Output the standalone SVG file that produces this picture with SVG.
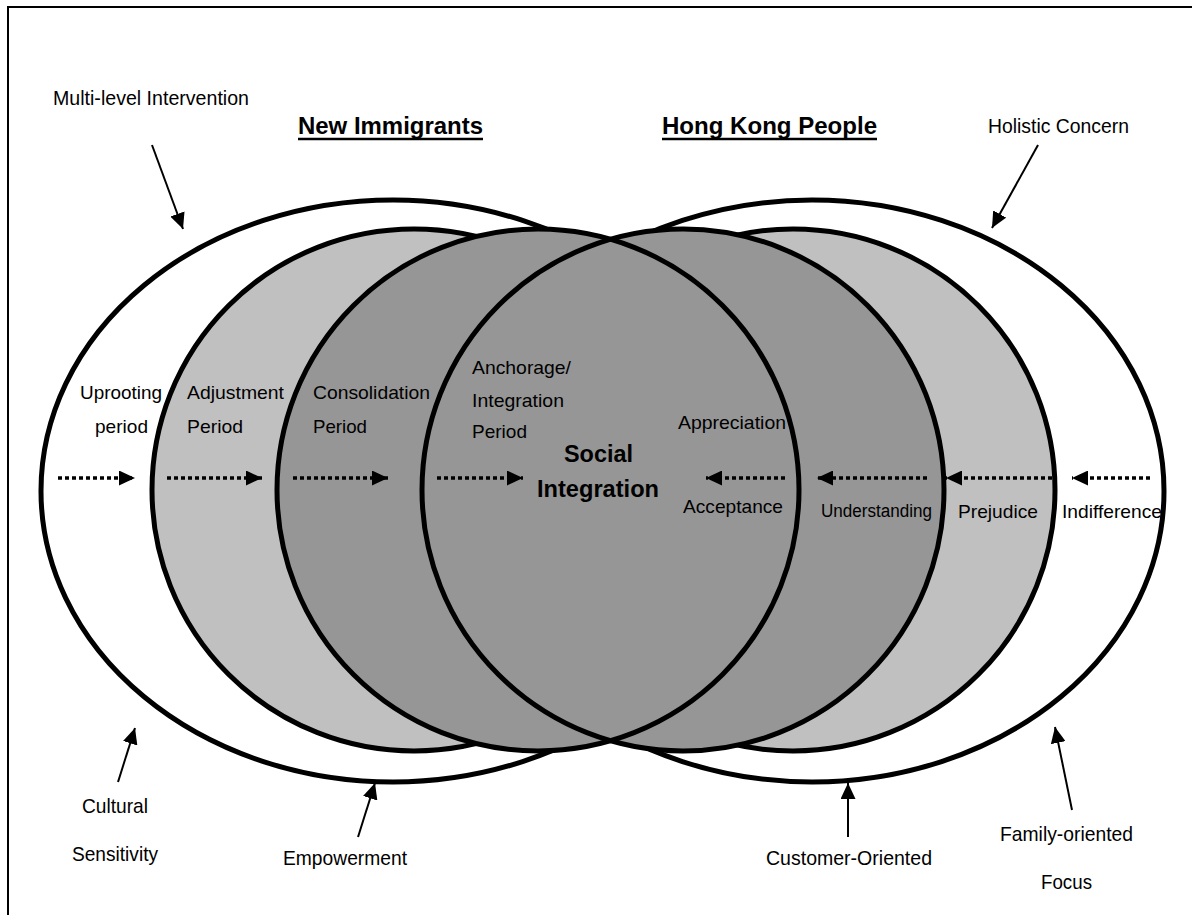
<svg xmlns="http://www.w3.org/2000/svg" width="1192" height="915" viewBox="0 0 1192 915">
  <style>
    text { font-family: "Liberation Sans", Arial, sans-serif; fill: #000; }
    .lbl { font-size: 19px; }
    .out { font-size: 21px; }
    .title { font-size: 24px; font-weight: bold; }
    .uline { stroke: #000; stroke-width: 2.5; }
    .core { font-size: 23.5px; font-weight: bold; }
    .ring { stroke: #000; stroke-width: 5; }
    .white { fill: #fff; }
    .light { fill: #c0c0c0; }
    .dark { fill: #969696; }
    .edge { fill: none; stroke: #000; stroke-width: 5; }
    .ptr { stroke: #000; stroke-width: 2; fill: none; marker-end: url(#head); }
    .flow { stroke: #000; stroke-width: 3.5; stroke-dasharray: 4 3; fill: none; marker-end: url(#head); }
  </style>
  <defs>
    <marker id="head" markerUnits="userSpaceOnUse" viewBox="0 0 16 15" markerWidth="16" markerHeight="15" refX="16" refY="7.5" orient="auto">
      <path d="M0,0 L16,7.5 L0,15 z" fill="#000"/>
    </marker>
  </defs>

  <rect width="1192" height="915" fill="#fff"/>
  <!-- frame -->
  <rect x="8" y="7" width="1200" height="930" fill="none" stroke="#000" stroke-width="2"/>

  <!-- outer rings -->
  <g id="outer-newcomers"><ellipse class="ring white" cx="393" cy="491" rx="352" ry="291"/></g>
  <g id="outer-locals"><ellipse class="ring white" cx="812" cy="491" rx="352" ry="291"/></g>
  <!-- middle rings -->
  <g id="middle-newcomers"><ellipse class="ring light" cx="414" cy="490" rx="262" ry="261"/></g>
  <g id="middle-locals"><ellipse class="ring light" cx="793" cy="490" rx="262" ry="261"/></g>
  <!-- inner circles: fills first, outlines on top so both arcs show in the overlap -->
  <g id="inner-newcomers"><circle class="dark" cx="538" cy="490" r="261"/></g>
  <g id="inner-locals"><circle class="dark" cx="683" cy="490" r="261"/></g>
  <g id="inner-outlines">
    <circle class="edge" cx="538" cy="490" r="261"/>
    <circle class="edge" cx="683" cy="490" r="261"/>
  </g>

  <!-- connectors -->
  <g id="connectors">
    <line class="ptr" x1="152" y1="145" x2="183" y2="229"/>
    <line class="ptr" x1="1038" y1="145" x2="992" y2="228"/>
    <line class="ptr" x1="118" y1="782" x2="135" y2="728"/>
    <line class="ptr" x1="358" y1="837" x2="375" y2="783"/>
    <line class="ptr" x1="848" y1="837" x2="848" y2="783"/>
    <line class="ptr" x1="1072" y1="810" x2="1055" y2="727"/>

    <line class="flow" x1="58" y1="478" x2="135" y2="478"/>
    <line class="flow" x1="167" y1="478" x2="262" y2="478"/>
    <line class="flow" x1="293" y1="478" x2="388" y2="478"/>
    <line class="flow" x1="437" y1="478" x2="523" y2="478"/>
    <line class="flow" x1="785" y1="478" x2="706" y2="478"/>
    <line class="flow" x1="927" y1="478" x2="817" y2="478"/>
    <line class="flow" x1="1052" y1="478" x2="946" y2="478"/>
    <line class="flow" x1="1150" y1="478" x2="1072" y2="478"/>
  </g>

  <!-- titles -->
  <g id="title-newcomers">
    <text class="title" x="298" y="134" textLength="185" lengthAdjust="spacingAndGlyphs">New Immigrants</text>
    <line class="uline" x1="298" y1="139" x2="483" y2="139"/>
  </g>
  <g id="title-locals">
    <text class="title" x="662" y="134" textLength="215" lengthAdjust="spacingAndGlyphs">Hong Kong People</text>
    <line class="uline" x1="662" y1="139" x2="877" y2="139"/>
  </g>

  <!-- service principles -->
  <g id="principle-multilevel"><text class="out" x="53" y="105" textLength="196" lengthAdjust="spacingAndGlyphs">Multi-level Intervention</text></g>
  <g id="principle-holistic"><text class="out" x="988" y="133" textLength="141" lengthAdjust="spacingAndGlyphs">Holistic Concern</text></g>
  <g id="principle-cultural">
    <text class="out" x="82" y="813" textLength="66" lengthAdjust="spacingAndGlyphs">Cultural</text>
    <text class="out" x="72" y="861" textLength="86" lengthAdjust="spacingAndGlyphs">Sensitivity</text>
  </g>
  <g id="principle-empowerment"><text class="out" x="283" y="865" textLength="124" lengthAdjust="spacingAndGlyphs">Empowerment</text></g>
  <g id="principle-customer"><text class="out" x="766" y="865" textLength="166" lengthAdjust="spacingAndGlyphs">Customer-Oriented</text></g>
  <g id="principle-family">
    <text class="out" x="1000" y="841" textLength="133" lengthAdjust="spacingAndGlyphs">Family-oriented</text>
    <text class="out" x="1041" y="889" textLength="51" lengthAdjust="spacingAndGlyphs">Focus</text>
  </g>

  <!-- stages of newcomers -->
  <g id="stage-uprooting">
    <text class="lbl" x="80" y="399" textLength="82" lengthAdjust="spacingAndGlyphs">Uprooting</text>
    <text class="lbl" x="95" y="433" textLength="53" lengthAdjust="spacingAndGlyphs">period</text>
  </g>
  <g id="stage-adjustment">
    <text class="lbl" x="187" y="399" textLength="97" lengthAdjust="spacingAndGlyphs">Adjustment</text>
    <text class="lbl" x="187" y="433" textLength="56" lengthAdjust="spacingAndGlyphs">Period</text>
  </g>
  <g id="stage-consolidation">
    <text class="lbl" x="313" y="399" textLength="117" lengthAdjust="spacingAndGlyphs">Consolidation</text>
    <text class="lbl" x="313" y="433" textLength="54" lengthAdjust="spacingAndGlyphs">Period</text>
  </g>
  <g id="stage-anchorage">
    <text class="lbl" x="472" y="374" textLength="99" lengthAdjust="spacingAndGlyphs">Anchorage/</text>
    <text class="lbl" x="472" y="407" textLength="92" lengthAdjust="spacingAndGlyphs">Integration</text>
    <text class="lbl" x="472" y="438" textLength="55" lengthAdjust="spacingAndGlyphs">Period</text>
  </g>

  <!-- centre -->
  <g id="social-integration">
    <text class="core" x="564" y="462" textLength="69" lengthAdjust="spacingAndGlyphs">Social</text>
    <text class="core" x="537" y="497" textLength="122" lengthAdjust="spacingAndGlyphs">Integration</text>
  </g>

  <!-- attitudes of local people -->
  <g id="attitude-appreciation"><text class="lbl" x="678" y="429" textLength="108" lengthAdjust="spacingAndGlyphs">Appreciation</text></g>
  <g id="attitude-acceptance"><text class="lbl" x="683" y="513" textLength="100" lengthAdjust="spacingAndGlyphs">Acceptance</text></g>
  <g id="attitude-understanding"><text class="lbl" x="821" y="517" style="font-size:18px" textLength="111" lengthAdjust="spacingAndGlyphs">Understanding</text></g>
  <g id="attitude-prejudice"><text class="lbl" x="958" y="518" textLength="80" lengthAdjust="spacingAndGlyphs">Prejudice</text></g>
  <g id="attitude-indifference"><text class="lbl" x="1062" y="518" textLength="100" lengthAdjust="spacingAndGlyphs">Indifference</text></g>
</svg>
